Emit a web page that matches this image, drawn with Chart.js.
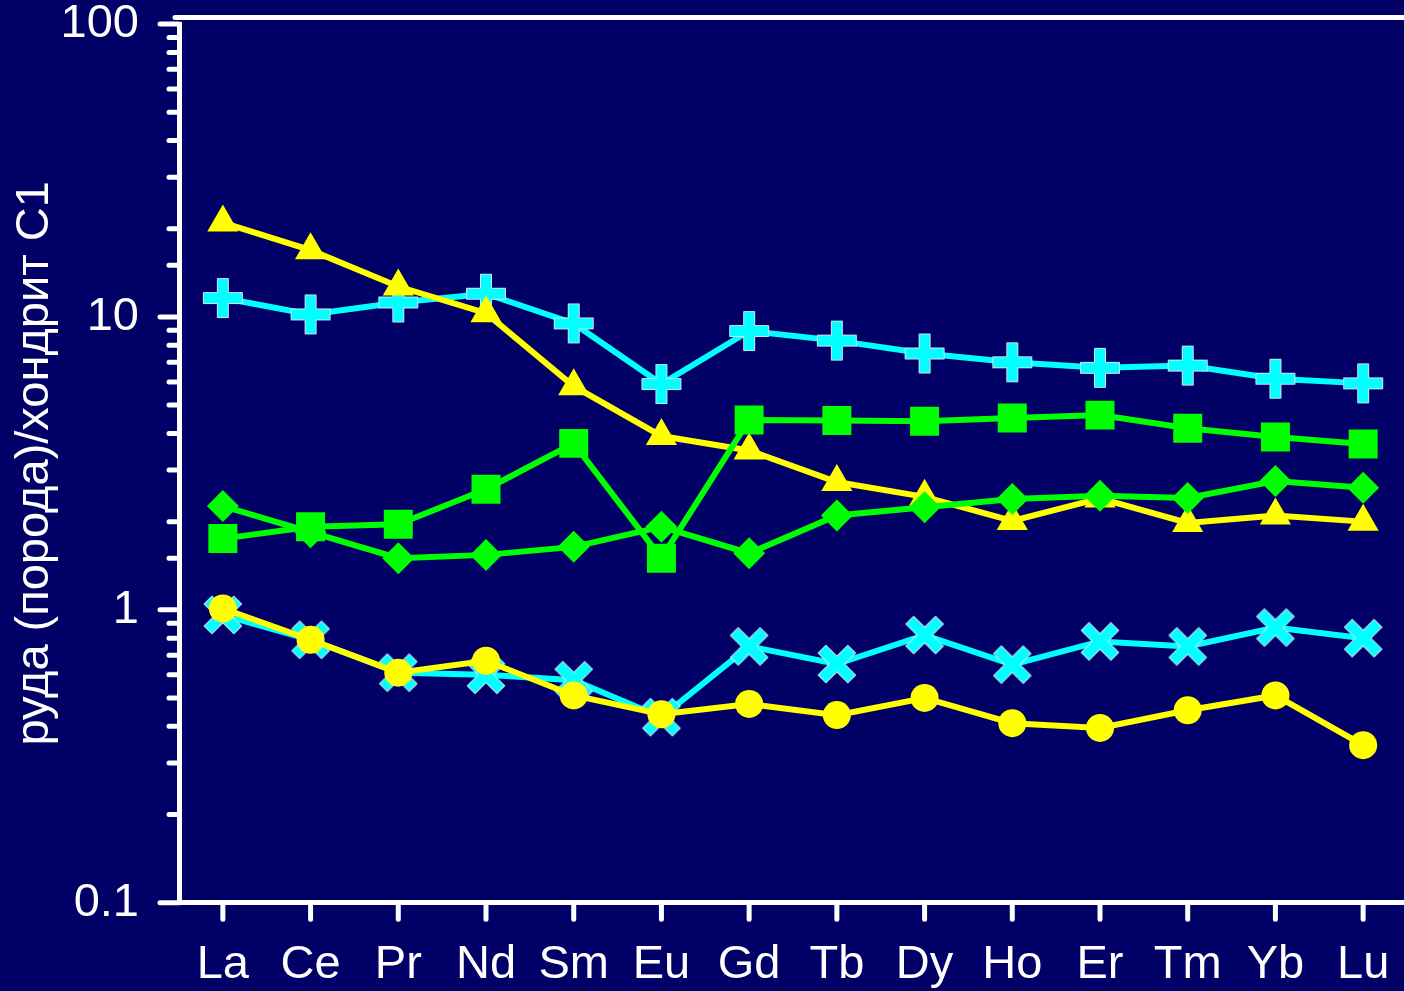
<!DOCTYPE html>
<html>
<head>
<meta charset="utf-8">
<script src="https://cdn.jsdelivr.net/npm/chart.js@4.4.0/dist/chart.umd.min.js"></script>
<style>
  html, body { margin: 0; padding: 0; background: #000066; overflow: hidden; }
  #wrap { width: 1408px; height: 991px; }
</style>
</head>
<body>
<div id="wrap"><canvas id="ree" width="1408" height="991"></canvas></div>
<script>
// Rare earth elements along the x axis
const elements = ['La', 'Ce', 'Pr', 'Nd', 'Sm', 'Eu', 'Gd', 'Tb', 'Dy', 'Ho', 'Er', 'Tm', 'Yb', 'Lu'];
// Decade labels on the logarithmic y axis
const yTickLabels = ['0.1', '1', '10', '100'];
const yTitle = 'руда (порода)/хондрит C1';

// Chondrite-normalised contents, one array per sample
const cyanPlus     = [11.6, 10.2, 11.2, 12.0, 9.5, 5.9, 8.95, 8.3, 7.5, 7.0, 6.7, 6.82, 6.15, 5.93];
const yellowTri    = [21.0, 16.9, 12.7, 10.3, 5.8, 3.92, 3.5, 2.73, 2.43, 2.01, 2.40, 1.98, 2.1, 2.0];
const greenSquare  = [1.75, 1.92, 1.96, 2.58, 3.7, 1.50, 4.45, 4.43, 4.4, 4.52, 4.62, 4.17, 3.89, 3.68];
const greenDiamond = [2.26, 1.84, 1.50, 1.54, 1.64, 1.92, 1.56, 2.10, 2.24, 2.39, 2.45, 2.41, 2.75, 2.61];
const cyanX        = [0.96, 0.79, 0.61, 0.60, 0.575, 0.43, 0.75, 0.653, 0.82, 0.65, 0.78, 0.75, 0.87, 0.80];
const yellowCircle = [1.01, 0.79, 0.61, 0.67, 0.51, 0.44, 0.477, 0.437, 0.50, 0.41, 0.395, 0.454, 0.51, 0.345];

const CYAN = '#00ffff', YELLOW = '#ffff00', GREEN = '#00ff00';
const FONT = "'Liberation Sans', Arial, sans-serif";

// Thick plus / x markers with a thin light edge, drawn once onto small canvases
function plusMarker(size, arm, fill, edge, angle) {
  const c = document.createElement('canvas');
  c.width = c.height = size;
  const g = c.getContext('2d');
  const m = size / 2, h = arm.len / 2, a = arm.thick / 2;
  g.translate(m, m);
  g.rotate(angle);
  g.beginPath();
  g.moveTo(-a, -h); g.lineTo(a, -h); g.lineTo(a, -a); g.lineTo(h, -a);
  g.lineTo(h, a); g.lineTo(a, a); g.lineTo(a, h); g.lineTo(-a, h);
  g.lineTo(-a, a); g.lineTo(-h, a); g.lineTo(-h, -a); g.lineTo(-a, -a);
  g.closePath();
  g.fillStyle = fill;
  g.fill();
  g.lineWidth = 1;
  g.strokeStyle = edge;
  g.stroke();
  return c;
}
const plusImg = plusMarker(42, {len: 39, thick: 11}, CYAN, 'rgba(235,235,255,0.9)', 0);
const xImg = plusMarker(44, {len: 42, thick: 11}, CYAN, 'rgba(235,235,255,0.9)', Math.PI / 4);

function isDecade(v) {
  const l = Math.log10(v);
  return Math.abs(l - Math.round(l)) < 1e-6;
}

// Outward tick marks (long on decades, short between) and the upper frame line
const axisDecor = {
  id: 'axisDecor',
  afterDraw(chart) {
    const {ctx, chartArea, scales: {x, y}} = chart;
    ctx.save();
    ctx.strokeStyle = '#ffffff';
    ctx.lineCap = 'round';
    ctx.lineWidth = 5;
    y.ticks.forEach((t, i) => {
      const py = y.getPixelForTick(i);
      const len = isDecade(t.value) ? 19 : 10;
      ctx.beginPath();
      ctx.moveTo(chartArea.left - len, py);
      ctx.lineTo(chartArea.left, py);
      ctx.stroke();
    });
    x.ticks.forEach((t, i) => {
      const px = x.getPixelForTick(i);
      ctx.beginPath();
      ctx.moveTo(px, chartArea.bottom);
      ctx.lineTo(px, chartArea.bottom + 16.5);
      ctx.stroke();
    });
    ctx.beginPath();
    ctx.moveTo(chartArea.left - 4, chartArea.top - 6.5);
    ctx.lineTo(chart.width + 10, chartArea.top - 6.5);
    ctx.stroke();
    ctx.restore();
  }
};

function series(data, color, style, radius) {
  return {
    data,
    borderColor: color,
    borderWidth: 6,
    pointStyle: style,
    pointRadius: radius,
    pointBackgroundColor: color,
    pointBorderColor: color,
    pointBorderWidth: 0,
    tension: 0,
    fill: false
  };
}

new Chart(document.getElementById('ree'), {
  type: 'line',
  data: {
    labels: elements,
    datasets: [
      series(yellowCircle, YELLOW, 'circle', 14),
      series(cyanX, CYAN, xImg, 19),
      series(greenSquare, GREEN, 'rect', 20.5),
      series(greenDiamond, GREEN, 'rectRot', 16),
      series(yellowTri, YELLOW, 'triangle', 18),
      series(cyanPlus, CYAN, plusImg, 19)
    ]
  },
  options: {
    responsive: false,
    animation: false,
    events: [],
    layout: { autoPadding: false, padding: { top: 24, right: 1, bottom: 0, left: 0 } },
    plugins: { legend: { display: false }, tooltip: { enabled: false } },
    scales: {
      x: {
        type: 'category',
        offset: true,
        grid: { display: false, drawTicks: false },
        border: { display: true, color: '#ffffff', width: 5 },
        ticks: {
          color: '#ffffff',
          font: { family: FONT, size: 47 },
          padding: 34,
          maxRotation: 0,
          autoSkip: false
        },
        afterFit(scale) {
          scale.height = 88.3;
          scale.paddingLeft = 0;
          scale.paddingRight = 0;
        }
      },
      y: {
        type: 'logarithmic',
        min: 0.1,
        max: 100,
        grid: { display: false, drawTicks: false },
        border: { display: true, color: '#ffffff', width: 5 },
        ticks: {
          color: '#ffffff',
          font: { family: FONT, size: 47 },
          padding: 40,
          autoSkip: false,
          callback(v) {
            if (!isDecade(v)) return '';
            const hit = yTickLabels.find(s => Math.abs(Number(s) - v) < 1e-9 * Math.max(1, v));
            return hit || '';
          }
        },
        title: {
          display: true,
          text: yTitle,
          color: '#ffffff',
          font: { family: FONT, size: 47, lineHeight: 1 },
          padding: { top: 12, bottom: 0 }
        },
        afterFit(scale) {
          scale.width = 179;
          scale.paddingTop = 0;
          scale.paddingBottom = 0;
        }
      }
    }
  },
  plugins: [axisDecor]
});
</script>
</body>
</html>
